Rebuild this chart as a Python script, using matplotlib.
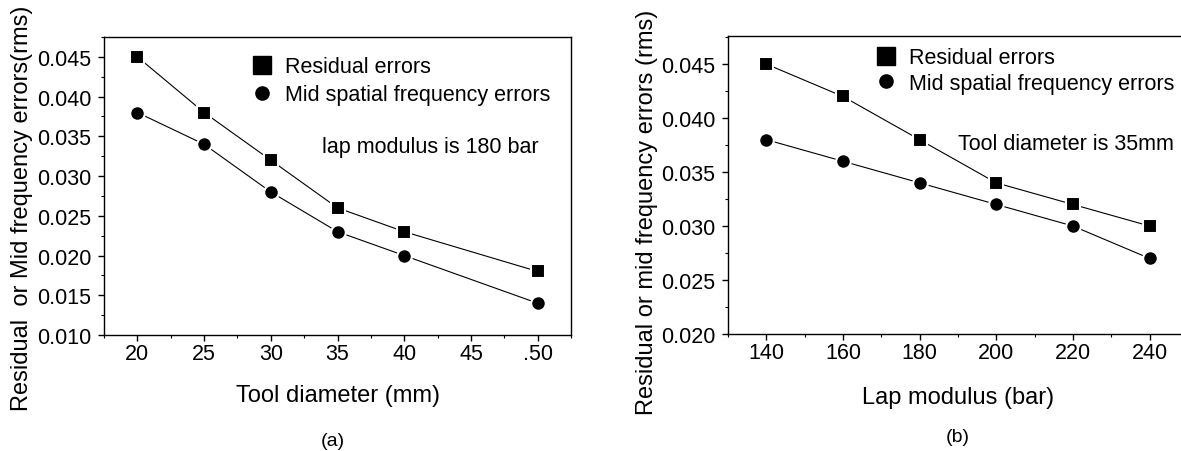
import matplotlib
matplotlib.use("Agg")
import matplotlib.pyplot as plt
from matplotlib.lines import Line2D
from matplotlib.ticker import MultipleLocator

plt.rcParams['font.family'] = ['Liberation Sans', 'DejaVu Sans']

# panel (a): tool diameter
tool_d = [20, 25, 30, 35, 40, 50]
res_a = [0.045, 0.038, 0.032, 0.026, 0.023, 0.018]
mid_a = [0.038, 0.034, 0.028, 0.023, 0.020, 0.014]
xt_a = [20, 25, 30, 35, 40, 45, 50]
xtl_a = ['20', '25', '30', '35', '40', '45', '.50']
yt_a = [0.010, 0.015, 0.020, 0.025, 0.030, 0.035, 0.040, 0.045]

# panel (b): lap modulus
lap_m = [140, 160, 180, 200, 220, 240]
res_b = [0.045, 0.042, 0.038, 0.034, 0.032, 0.030]
mid_b = [0.038, 0.036, 0.034, 0.032, 0.030, 0.027]
xt_b = [140, 160, 180, 200, 220, 240]
yt_b = [0.020, 0.025, 0.030, 0.035, 0.040, 0.045]

leg_labels = ['Residual errors', 'Mid spatial frequency errors']

fig = plt.figure(figsize=(11.81, 4.52), dpi=100)
axa = fig.add_axes([0.0881, 0.2566, 0.3954, 0.6593])
axb = fig.add_axes([0.6164, 0.2588, 0.3895, 0.6593])

fs = 15.5
lfs = 17


def draw(ax, x, r, m):
    ax.plot(x, r, '-', color='k', lw=0.8, marker='s', ms=10,
            mfc='k', mec='white', mew=1.5)
    ax.plot(x, m, '-', color='k', lw=0.8, marker='o', ms=10.5,
            mfc='k', mec='white', mew=1.5)
    for s in ax.spines.values():
        s.set_linewidth(1.0)
    ax.tick_params(which='major', direction='out', length=4, width=1,
                   labelsize=fs, top=False, right=False)
    ax.tick_params(axis='x', which='major', pad=1.5)
    ax.tick_params(axis='y', which='major', pad=5)
    ax.tick_params(which='minor', direction='out', length=2.5, width=0.8,
                   top=False, right=False)


draw(axa, tool_d, res_a, mid_a)
axa.set_xlim(17.5, 52.5)
axa.set_ylim(0.010, 0.0475)
axa.set_xticks(xt_a)
axa.set_xticklabels(xtl_a)
axa.set_yticks(yt_a)
axa.set_yticklabels(['%.3f' % v for v in yt_a])
axa.xaxis.set_minor_locator(MultipleLocator(2.5))
axa.yaxis.set_minor_locator(MultipleLocator(0.0025))
axa.set_xlabel('Tool diameter (mm)', fontsize=lfs)
axa.set_ylabel('Residual  or Mid frequency errors(rms)', fontsize=17)
axa.xaxis.set_label_coords(0.5, -0.165)
axa.yaxis.set_label_coords(-0.152, 0.43)

draw(axb, lap_m, res_b, mid_b)
axb.set_xlim(130, 250)
axb.set_ylim(0.020, 0.0476)
axb.set_xticks(xt_b)
axb.set_yticks(yt_b)
axb.set_yticklabels(['%.3f' % v for v in yt_b])
axb.xaxis.set_minor_locator(MultipleLocator(10))
axb.yaxis.set_minor_locator(MultipleLocator(0.0025))
axb.set_xlabel('Lap modulus (bar)', fontsize=lfs)
axb.set_ylabel('Residual or mid frequency errors (rms)', fontsize=17)
axb.xaxis.set_label_coords(0.5, -0.175)
axb.yaxis.set_label_coords(-0.152, 0.41)

# legends
hs = Line2D([], [], ls='none', marker='s', ms=12.5, color='k')
hc = Line2D([], [], ls='none', marker='o', ms=9.5, color='k')
axa.legend([hs, hc], leg_labels,
           loc='upper left', bbox_to_anchor=(0.315, 0.935), frameon=False,
           fontsize=fs, handlelength=1, handletextpad=0.57, labelspacing=0.31,
           borderpad=0, borderaxespad=0)
axb.legend([hs, hc], leg_labels,
           loc='upper left', bbox_to_anchor=(0.32, 0.962), frameon=False,
           fontsize=fs, handlelength=1, handletextpad=0.57, labelspacing=0.21,
           borderpad=0, borderaxespad=0)

axa.text(0.467, 0.634, 'lap modulus is 180 bar', transform=axa.transAxes,
         fontsize=fs, va='center', ha='left')
axb.text(0.50, 0.638, 'Tool diameter is 35mm', transform=axb.transAxes,
         fontsize=fs, va='center', ha='left')

fig.text(333 / 1181, 1 - 442 / 452, '(a)', fontsize=14, ha='center', va='center')
fig.text(958 / 1181, 1 - 438 / 452, '(b)', fontsize=14, ha='center', va='center')

fig.savefig('out.png', dpi=100)
